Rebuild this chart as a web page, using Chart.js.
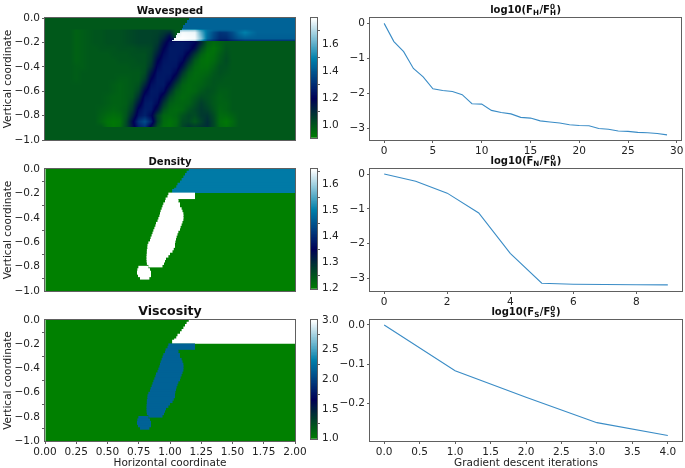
<!DOCTYPE html>
<html><head><meta charset="utf-8">
<style>html,body{margin:0;padding:0;background:#fff;width:685px;height:468px;overflow:hidden}
canvas{position:absolute;filter:blur(0.35px)}</style>
<script src="https://cdn.jsdelivr.net/npm/chart.js@4"></script></head><body>
<script>
// ---------- line data ----------
const fH=[0,-.52,-.81,-1.29,-1.53,-1.87,-1.92,-1.95,-2.04,-2.30,-2.31,-2.49,-2.55,-2.59,-2.69,-2.71,-2.79,-2.82,-2.85,-2.90,-2.92,-2.93,-3.01,-3.03,-3.08,-3.09,-3.12,-3.13,-3.15,-3.19];
const fN=[0,-.21,-.55,-1.12,-2.28,-3.14,-3.17,-3.18,-3.185,-3.19];
const fS=[0,-.117,-.185,-.25,-.283];
// ---------- tick labels ----------
const xTicksMap=[0,.25,.5,.75,1,1.25,1.5,1.75,2];
const yTicksMap=[0,-.2,-.4,-.6,-.8,-1];
const xTicksH=[0,5,10,15,20,25,30], xTicksN=[0,2,4,6,8], xTicksS=[0,.5,1,1.5,2,2.5,3,3.5,4];
const yTicksH=[0,-1,-2,-3], yTicksS=[0,-.1,-.2];
const cbTicksW=[1,1.2,1.4,1.6], cbTicksD=[1.2,1.3,1.4,1.5,1.6], cbTicksV=[1,1.5,2,2.5,3];
// ---------- shared geometry of the density / viscosity model ----------
const faultRows=[0,-.02,-.04,-.06,-.08,-.1,-.12,-.14,-.16,-.17];
const faultX=[1.15,1.133,1.12,1.107,1.093,1.08,1.06,1.05,1.033,1.017];
const blobRows=[-.2,-.22,-.24,-.26,-.28,-.3,-.32,-.34,-.36,-.38,-.4,-.42,-.44,-.46,-.48,-.5,-.52,-.54,-.56,-.58,-.6,-.62,-.64,-.66,-.68,-.7,-.72,-.74,-.76,-.78];
const blobLeft=[.987,.98,.965,.96,.947,.94,.933,.925,.92,.915,.907,.9,.888,.883,.875,.867,.86,.853,.845,.84,.827,.82,.82,.815,.815,.813,.813,.813,.815,.827];
const blobRight=[1.2,1.2,1.067,1.067,1.08,1.08,1.093,1.1,1.107,1.107,1.107,1.1,1.093,1.085,1.08,1.067,1.06,1.053,1.048,1.043,1.04,1.04,1.03,1.02,1,.987,.968,.96,.952,.94];
const dropRows=[-.8,-.82,-.84,-.86,-.88];
const dropLeft=[.747,.739,.736,.744,.76];
const dropRight=[.827,.84,.848,.848,.835];
const densityVals=[1.2,1.5,1.66];
const viscosityVals=[1,3,2.18];
// ---------- wavespeed field (value x 100) ----------
const waveX=[.2,.25,.3,.35,.4,.45,.5,.55,.6,.65,.7,.75,.8,.85,.9,.95,1,1.05,1.1,1.15,1.2,1.25,1.3,1.35,1.4,1.45,1.5,1.55,1.6];
const waveY=[-.1,-.15,-.2,-.25,-.3,-.35,-.4,-.45,-.5,-.55,-.6,-.65,-.7,-.75,-.8,-.85,-.89];
const waveRows=[
[100,98,99,100,101,101,102,102,102,103,104,105,105,105,105,106,106,100,100,100,100,100,100,100,100,100,100,100,100],
[100,98,99,100,101,101,102,102,102,103,104,105,105,105,106,110,118,100,100,100,100,100,100,100,100,100,100,100,100],
[100,98,99,100,101,101,102,102,102,103,104,105,105,105,107,116,124,126,126,125,122,112,99,96,98,100,100,100,100],
[100,98,99,100,100,101,101,101,102,102,102,103,103,104,110,120,126,126,126,124,117,104,96,94,97,101,100,100,100],
[100,98,99,100,100,100,100,101,101,101,102,102,102,105,114,123,126,126,125,118,107,98,94,95,99,102,100,100,100],
[100,98,99,100,100,100,100,100,101,101,101,102,102,106,119,125,126,126,122,111,100,95,94,96,100,103,100,100,100],
[100,99,99,100,100,100,100,100,100,100,101,101,102,109,122,126,126,125,116,104,97,95,95,98,102,102,100,100,100],
[100,99,100,100,100,100,100,100,100,100,100,100,103,115,125,126,126,121,108,99,96,96,97,100,102,101,100,100,100],
[100,99,100,100,100,100,100,100,99,99,100,100,106,120,126,126,124,114,102,97,96,97,99,101,101,100,100,100,100],
[100,100,100,100,100,100,100,99,98,99,100,102,112,124,126,126,118,106,98,96,97,98,100,101,100,100,100,100,100],
[100,100,100,100,100,100,100,99,98,99,100,105,119,126,126,123,110,100,97,96,97,100,102,101,99,99,100,100,100],
[100,100,100,100,100,100,99,98,98,99,101,110,124,126,125,115,103,98,96,97,100,103,102,100,98,99,100,100,100],
[100,100,100,100,100,100,99,98,98,99,104,116,126,127,122,108,99,97,97,98,102,106,103,100,98,98,100,100,100],
[100,100,100,100,100,99,98,97,98,100,107,122,127,126,116,102,97,96,97,101,104,107,105,101,97,98,100,100,100],
[100,100,100,100,100,98,96,95,96,101,112,125,128,122,106,97,96,97,101,104,103,107,108,103,96,96,98,100,100],
[100,100,100,100,100,97,94,93,94,103,118,132,138,128,106,96,94,96,103,104,100,105,110,104,95,93,96,100,100],
[100,100,100,100,100,100,95,93,95,104,116,128,132,118,102,95,94,97,104,108,106,108,110,104,96,94,97,100,100]
];
// layer above the interface, right of the fault
const topX=[1,1.03,1.1,1.2,1.25,1.3,1.35,1.4,1.45,1.5,1.55,1.6,1.65,1.7,2];
const topY=[0,-.09,-.1,-.12,-.17,-.186,-.19];
const topRows=[
[143,143,143,143,143,143,143,143,143,143,143,143,143,143,143],
[143,143,143,143,143,143,143,143,143,143,143,143,143,143,143],
[150,158,168,168,155,146,143,142,142,143,144,146,144,143,143],
[160,172,178,177,160,146,138,132,133,138,145,150,146,143,143],
[175,179,179,178,165,145,136,130,130,135,140,142,142,142,142],
[170,176,176,172,155,135,130,125,125,128,130,132,132,132,132],
[125,125,125,125,122,116,115,115,115,115,115,115,115,115,115]
];
const ranges={wave:[.91,1.79],dens:[1.2,1.66],visc:[1,3]};

function ocean(t){t=Math.max(0,Math.min(1,t));return [Math.max(0,3*t-2)*255,Math.abs(1.5*t-.5)*255,t*255].map(Math.round);}
function color(v,r){const c=ocean((v-r[0])/(r[1]-r[0]));return `rgb(${c[0]},${c[1]},${c[2]})`;}
const SP='#606060',TXT='#222222',FF='"DejaVu Sans"',TS=10.5;
const fmt=d=>v=>Number(v).toFixed(d).replace('-','\u2212');

// frame + title plugin
const frame={id:'frame',afterDraw(c){const a=c.chartArea,x=c.ctx;x.save();x.strokeStyle=SP;x.lineWidth=1;
  x.strokeRect(Math.round(a.left)-.5,Math.round(a.top)-.5,Math.round(a.width)+1,Math.round(a.height)+1);
  const o=c.options.plugins.frame||{};
  if(o.title){let w=0;const fs=o.size;x.fillStyle='#111';x.textBaseline='alphabetic';
    const B=s=>`bold ${s}px ${FF}`;const small=fs*.72;
    o.title.forEach(g=>{if(g.t){x.font=B(fs);g.w=x.measureText(g.t).width}else{x.font=B(small);g.w=Math.max(x.measureText(g.sub).width,g.sup?x.measureText(g.sup).width:0)}w+=g.w+(g.t?0:.5)});
    let px=(a.left+a.right)/2-w/2;const by=a.top-o.gap;
    o.title.forEach(g=>{x.textAlign='left';if(g.t){x.font=B(fs);x.fillText(g.t,px,by);px+=g.w}else{x.font=B(small);x.fillText(g.sub,px,by+2);if(g.sup)x.fillText(g.sup,px,by-4.5);px+=g.w+.5}});
  }
  x.restore();}};
Chart.register(frame);

function mk(id,left,top,w,h,cfg){const cv=document.createElement('canvas');cv.id=id;cv.width=w;cv.height=h;cv.style.cssText=`left:${left}px;top:${top}px;width:${w}px;height:${h}px`;document.body.appendChild(cv);
  cfg.options=Object.assign({responsive:false,animation:false,events:[],devicePixelRatio:1},cfg.options);return new Chart(cv,cfg);}
function axisX(ticks,d,wantLabels,title,h,min,max){return {type:'linear',min,max,position:'bottom',offset:false,
  afterBuildTicks:a=>{a.ticks=ticks.map(v=>({value:v}))},afterFit:a=>{a.height=h},
  border:{display:false},grid:{drawOnChartArea:false,drawTicks:wantLabels,tickLength:3,color:SP},
  ticks:{display:wantLabels,color:TXT,font:{family:FF,size:TS},padding:1.5,maxRotation:0,autoSkip:false,callback:fmt(d)},
  title:{display:!!title,text:title||'',color:TXT,font:{family:FF,size:10.5},padding:{top:0,bottom:0}}};}
function axisY(ticks,d,title,w,min,max,pos){return {type:'linear',min,max,position:pos||'left',offset:false,
  afterBuildTicks:a=>{a.ticks=ticks.map(v=>({value:v}))},afterFit:a=>{a.width=w},
  border:{display:false},grid:{drawOnChartArea:false,drawTicks:true,tickLength:3,color:SP},
  ticks:{color:TXT,font:{family:FF,size:TS},padding:2,autoSkip:false,callback:fmt(d)},
  title:{display:!!title,text:title||'',color:TXT,font:{family:FF,size:10.5},padding:{top:2,bottom:0}}};}
function bars(pts,col,order,th){return {type:'bar',data:pts,backgroundColor:col,borderWidth:0,barThickness:th,grouped:false,order,inflateAmount:0};}

const plotTops=[18,169,320],plotH=[122,122,121],XH=[27,27,29];
const titleLeft=[[{t:'Wavespeed'}],[{t:'Density'}],[{t:'Viscosity'}]];
const tsize=[10.3,10,12.6];
const LW=45,PW=250,RW=14;

// --- wavespeed heat plugin: bilinear image through the scales
const waveFullX=[0].concat(waveX,[2]);
const allRowY=[0,-.09].concat(waveY,[-.895,-1]);
const blank=waveX.map(()=>100);
const allRows=[blank,blank].concat(waveRows,[blank,blank]).map(r=>[100].concat(r,[100]));
function bil(xs,ys,g,x,y){let i=0,j=0;while(i<xs.length-2&&x>=xs[i+1])i++;while(j<ys.length-2&&y<=ys[j+1])j++;
  const u=Math.max(0,Math.min(1,(x-xs[i])/(xs[i+1]-xs[i]))),w=Math.max(0,Math.min(1,(y-ys[j])/(ys[j+1]-ys[j])));
  return ((g[j][i]*(1-u)+g[j][i+1]*u)*(1-w)+(g[j+1][i]*(1-u)+g[j+1][i+1]*u)*w)/100;}
function faultAt(y){const k=Math.min(faultX.length-1,Math.floor(-y/.02));return faultX[k];}
const heat={id:'heat',beforeDatasetsDraw(c){const a=c.chartArea,sx=c.scales.x,sy=c.scales.y;
  const W=Math.round(a.width),H=Math.round(a.height),off=document.createElement('canvas');off.width=W;off.height=H;
  const oc=off.getContext('2d'),im=oc.createImageData(W,H);
  for(let j=0;j<H;j++){const y=sy.getValueForPixel(a.top+j+.5);for(let i=0;i<W;i++){const x=sx.getValueForPixel(a.left+i+.5);
    let v=(y>-.19&&x>=faultAt(y))?bil(topX,topY,topRows,x,y):bil(waveFullX,allRowY,allRows,x,y);
    const q=ocean((v-ranges.wave[0])/(ranges.wave[1]-ranges.wave[0])),p=(j*W+i)*4;im.data[p]=q[0];im.data[p+1]=q[1];im.data[p+2]=q[2];im.data[p+3]=255;}}
  oc.putImageData(im,0,0);c.ctx.drawImage(off,a.left,a.top);}};

mk('wave',0,0,LW+PW+RW,18+plotH[0]+XH[0],{type:'scatter',
  data:{datasets:[{data:waveX.map(x=>({x,y:-.5})),pointRadius:0,showLine:false}]},
  plugins:[heat],
  options:{layout:{padding:{left:0,right:RW,top:18,bottom:0}},
    plugins:{legend:{display:false},tooltip:{enabled:false},frame:{title:titleLeft[0],size:tsize[0],gap:4}},
    scales:{x:axisX(xTicksMap,2,false,'',XH[0],0,2),y:axisY(yTicksMap,1,'Vertical coordinate',LW,-1,0)}}});

function modelPanel(idx,id,vals,range,labels,xtitle){
  const faultPts=faultRows.map((y,i)=>({y:y-.01,x:[faultX[i],2]}));
  const blobPts=blobRows.map((y,i)=>({y:y-.01,x:[blobLeft[i],blobRight[i]]}));
  const dropPts=dropRows.map((y,i)=>({y:y-.01,x:[dropLeft[i],dropRight[i]]}));
  mk(id,0,plotTops[idx]-18,LW+PW+RW,18+plotH[idx]+XH[idx],{type:'bar',
    data:{datasets:[
      bars([{y:-.5,x:[0,2]}],color(vals[0],range),3,plotH[idx]+2),
      bars(faultPts,color(vals[1],range),2,4),
      bars(blobPts,color(vals[2],range),1,4),
      bars(dropPts,color(vals[2],range),1,4)]},
    options:{indexAxis:'y',layout:{padding:{left:0,right:RW,top:18,bottom:0}},
      plugins:{legend:{display:false},tooltip:{enabled:false},frame:{title:titleLeft[idx],size:tsize[idx],gap:idx==2?5:4}},
      scales:{x:axisX(xTicksMap,2,labels,xtitle,XH[idx],0,2),y:axisY(yTicksMap,1,'Vertical coordinate',LW,-1,0)}}});
}
modelPanel(1,'dens',densityVals,ranges.dens,false,'');
modelPanel(2,'visc',viscosityVals,ranges.visc,true,'Horizontal coordinate');

// --- colorbars
function colorbar(idx,range,ticks,d){const n=80,pts=[],cols=[];
  for(let k=0;k<n;k++){const v=range[0]+(k+.5)*(range[1]-range[0])/n;pts.push({y:v,x:[0,1]});cols.push(color(v,range));}
  mk('cb'+idx,300,plotTops[idx]-18,45,18+plotH[idx]+6,{type:'bar',
    data:{datasets:[bars(pts,cols,1,3)]},
    options:{indexAxis:'y',layout:{padding:{left:11,right:0,top:18,bottom:0}},
      plugins:{legend:{display:false},tooltip:{enabled:false},frame:{}},
      scales:{x:{type:'linear',min:0,max:1,display:true,offset:false,afterFit:a=>{a.height=6},border:{display:false},grid:{display:false},ticks:{display:false}},
        y:axisY(ticks,d,'',28,range[0],range[1],'right')}}});}
colorbar(0,ranges.wave,cbTicksW,1);colorbar(1,ranges.dens,cbTicksD,1);colorbar(2,ranges.visc,cbTicksV,1);

// --- convergence lines
const RL=330,RPL=40,RPW=312,RPR=3;
function linePanel(idx,id,vals,title,xt,xd,yt,yd,xr,yr,xtitle){
  mk(id,RL,plotTops[idx]-18,RPL+RPW+RPR,18+plotH[idx]+XH[idx],{type:'line',
    data:{datasets:[{data:vals.map((v,i)=>({x:i,y:v})),borderColor:'#3a8cc6',borderWidth:1.1,pointRadius:0,tension:0,clip:false}]},
    options:{layout:{padding:{left:0,right:RPR,top:18,bottom:0}},
      plugins:{legend:{display:false},tooltip:{enabled:false},frame:{title,size:10,gap:5}},
      scales:{x:axisX(xt,xd,true,xtitle,XH[idx],xr[0],xr[1]),y:axisY(yt,yd,'',RPL,yr[0],yr[1])}}});}
const tt=s=>[{t:'log10(F'},{sub:s},{t:'/F'},{sub:s,sup:'0'},{t:')'}];
linePanel(0,'lH',fH,tt('H'),xTicksH,0,yTicksH,0,[-1.45,30.45],[-3.337,.154],'');
linePanel(1,'lN',fN,tt('N'),xTicksN,0,yTicksH,0,[-.45,9.45],[-3.365,.144],'');
linePanel(2,'lS',fS,tt('S'),xTicksS,1,yTicksS,1,[-.2,4.2],[-.297,.0128],'Gradient descent iterations');
</script></body></html>
